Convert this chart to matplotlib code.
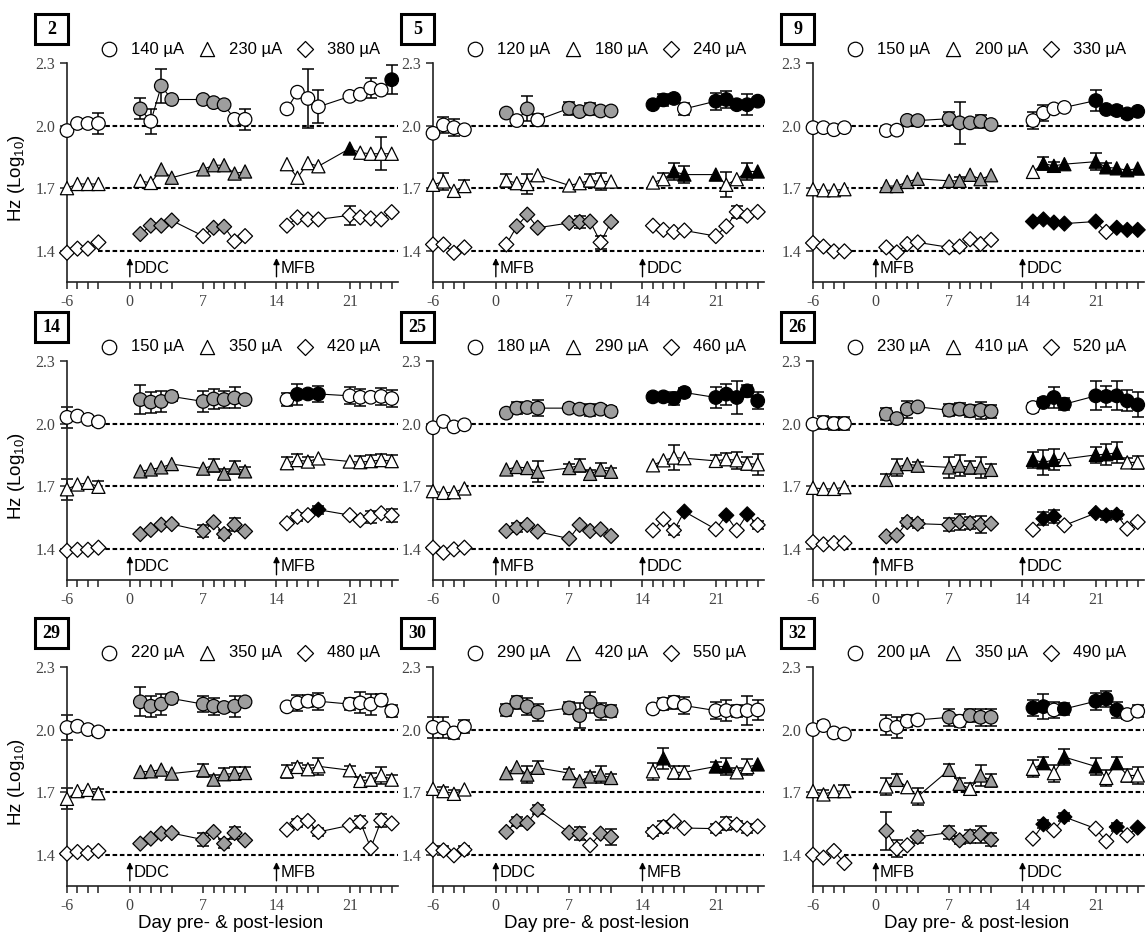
import matplotlib
matplotlib.use("Agg")
import matplotlib.pyplot as plt
from matplotlib.patches import Rectangle

plt.rcParams['font.family'] = ['Liberation Sans', 'DejaVu Sans']
plt.rcParams['mathtext.fontset'] = 'custom'
plt.rcParams['mathtext.rm'] = 'Liberation Sans'
plt.rcParams['axes.unicode_minus'] = False
SERIF = ['Liberation Serif', 'DejaVu Serif']

# Test days: 4 baseline days, then two 9-day post-lesion blocks
DAYS = [-6, -5, -4, -3, 1, 2, 3, 4, 7, 8, 9, 10, 11, 15, 16, 17, 18, 21, 22, 23, 24, 25]
SEGMENTS = [(0, 4), (4, 13), (13, 22)]
X_MAJOR = [-6, 0, 7, 14, 21]
X_MINOR = [-5, -4, -3, 1, 2, 3, 4, 8, 9, 10, 11, 15, 16, 17, 18, 22, 23, 24, 25]
Y_TICKS = [1.4, 1.7, 2.0, 2.3]
BASELINES = [1.4, 1.7, 2.0]
SYMBOLS = ['o', '^', 'D']
FILL_COLORS = {'w': 'white', 'g': '#9e9e9e', 'k': 'black'}

# ---- animal 2 ----
A2_CURRENTS = ['140 µA', '230 µA', '380 µA']
A2_HZ = [
    [1.976, 2.01, 2.01, 2.01, 2.08, 2.02, 2.19, 2.125, 2.125, 2.11, 2.10, 2.03, 2.03,
     2.08, 2.16, 2.13, 2.09, 2.14, 2.15, 2.18, 2.17, 2.22],
    [1.70, 1.72, 1.72, 1.72, 1.735, 1.725, 1.79, 1.75, 1.79, 1.81, 1.81, 1.77, 1.78,
     1.815, 1.75, 1.82, 1.805, 1.89, 1.87, 1.865, 1.865, 1.865],
    [1.39, 1.41, 1.41, 1.44, 1.48, 1.52, 1.52, 1.545, 1.47, 1.51, 1.515, 1.445, 1.47,
     1.52, 1.56, 1.55, 1.55, 1.57, 1.56, 1.555, 1.55, 1.585],
]
A2_FILL = ['wwww gwgggggww wwwwwwwwk', 'wwww wwggggggg wwwwkwwww', 'wwww ggggwggww wwwwwwwww']
A2_SEM = [
    [0, 0, 0, 0.05, 0.05, 0.06, 0.08, 0, 0, 0, 0, 0, 0.05, 0, 0, 0.14, 0.08, 0, 0, 0.05, 0, 0.07],
    [0] * 20 + [0.08, 0],
    [0] * 17 + [0.045, 0, 0, 0, 0],
]

# ---- animal 5 ----
A5_CURRENTS = ['120 µA', '180 µA', '240 µA']
A5_HZ = [
    [1.963, 2.003, 1.99, 1.98, 2.06, 2.024, 2.08, 2.027, 2.083, 2.067, 2.08, 2.07, 2.07,
     2.10, 2.123, 2.13, 2.08, 2.117, 2.125, 2.10, 2.10, 2.117],
    [1.716, 1.732, 1.687, 1.71, 1.737, 1.724, 1.72, 1.762, 1.713, 1.724, 1.737, 1.732, 1.732,
     1.727, 1.743, 1.78, 1.765, 1.765, 1.716, 1.743, 1.78, 1.78],
    [1.43, 1.43, 1.39, 1.416, 1.43, 1.517, 1.573, 1.51, 1.533, 1.538, 1.54, 1.44, 1.538,
     1.52, 1.50, 1.49, 1.497, 1.47, 1.517, 1.586, 1.568, 1.586],
]
A5_FILL = ['wwww gwgwggggg kkkwkkkkk', 'wwww wwwwwwwww wwkkkwwkk', 'wwww wggggggwg wwwwwwwww']
A5_SEM = [
    [0, 0.04, 0.04, 0, 0, 0, 0.06, 0.03, 0.03, 0, 0.03, 0, 0, 0, 0.03, 0, 0.03, 0.04, 0.04, 0, 0.05, 0],
    [0, 0.04, 0, 0.03, 0.03, 0, 0.05, 0, 0, 0, 0.03, 0.04, 0, 0, 0.03, 0.04, 0.04, 0, 0.06, 0, 0.04, 0],
    [0, 0, 0, 0, 0, 0, 0, 0, 0, 0.03, 0, 0.03, 0, 0, 0, 0, 0, 0, 0, 0.03, 0, 0],
]

# ---- animal 9 ----
A9_CURRENTS = ['150 µA', '200 µA', '330 µA']
A9_HZ = [
    [1.99, 1.99, 1.98, 1.99, 1.976, 1.978, 2.025, 2.024, 2.033, 2.013, 2.013, 2.02, 2.005,
     2.024, 2.06, 2.08, 2.087, 2.12, 2.077, 2.072, 2.056, 2.068],
    [1.695, 1.69, 1.69, 1.695, 1.71, 1.71, 1.73, 1.745, 1.735, 1.735, 1.764, 1.743, 1.762,
     1.778, 1.818, 1.807, 1.815, 1.827, 1.80, 1.795, 1.786, 1.794],
    [1.437, 1.42, 1.397, 1.397, 1.416, 1.392, 1.432, 1.44, 1.416, 1.42, 1.455, 1.432, 1.452,
     1.54, 1.55, 1.535, 1.53, 1.54, 1.49, 1.51, 1.50, 1.50],
]
A9_FILL = ['wwww wwggggggg wwwwkkkkk', 'wwww ggggggggg wkkkkkkkk', 'wwww wwwwwwwww kkkkkwkkk']
A9_SEM = [
    [0, 0, 0, 0, 0, 0, 0, 0, 0.03, 0.1, 0, 0.03, 0, 0.04, 0.04, 0, 0, 0.05, 0, 0.02, 0.02, 0],
    [0, 0, 0, 0, 0, 0, 0, 0, 0, 0.02, 0, 0, 0, 0, 0.03, 0.02, 0, 0.04, 0.02, 0, 0, 0],
    [0] * 22,
]

# ---- animal 14 ----
A14_CURRENTS = ['150 µA', '350 µA', '420 µA']
A14_HZ = [
    [2.03, 2.036, 2.02, 2.008, 2.115, 2.103, 2.106, 2.13, 2.106, 2.118, 2.115, 2.123, 2.115,
     2.115, 2.14, 2.142, 2.142, 2.133, 2.126, 2.126, 2.13, 2.12],
    [1.685, 1.708, 1.716, 1.697, 1.771, 1.78, 1.79, 1.806, 1.784, 1.80, 1.76, 1.79, 1.771,
     1.81, 1.825, 1.818, 1.833, 1.818, 1.815, 1.82, 1.825, 1.82],
    [1.39, 1.395, 1.395, 1.405, 1.47, 1.49, 1.515, 1.518, 1.484, 1.527, 1.47, 1.515, 1.483,
     1.522, 1.553, 1.561, 1.587, 1.561, 1.537, 1.553, 1.57, 1.56],
]
A14_FILL = ['wwww ggggggggg wkkkwwwww', 'wwww ggggggggg wwwwwwwww', 'wwww ggggggggg wwwkwwwww']
A14_SEM = [
    [0.05, 0, 0, 0.02, 0.07, 0.05, 0.05, 0.02, 0.05, 0.05, 0.04, 0.05, 0, 0.03, 0.05, 0, 0.04, 0.04, 0.04, 0, 0.04, 0.04],
    [0.05, 0, 0, 0.03, 0, 0, 0, 0, 0, 0.03, 0.02, 0.03, 0.02, 0.03, 0.03, 0.02, 0, 0, 0.03, 0.03, 0.03, 0.03],
    [0, 0, 0, 0, 0, 0, 0, 0, 0.03, 0, 0.02, 0.03, 0, 0, 0.02, 0, 0.02, 0, 0, 0.03, 0, 0.03],
]

# ---- animal 25 ----
A25_CURRENTS = ['180 µA', '290 µA', '460 µA']
A25_HZ = [
    [1.98, 2.01, 1.984, 1.994, 2.05, 2.074, 2.077, 2.074, 2.074, 2.069, 2.064, 2.069, 2.058,
     2.128, 2.128, 2.12, 2.149, 2.125, 2.141, 2.125, 2.157, 2.109],
    [1.676, 1.668, 1.671, 1.689, 1.78, 1.792, 1.787, 1.769, 1.787, 1.80, 1.759, 1.78, 1.769,
     1.80, 1.824, 1.837, 1.834, 1.821, 1.829, 1.824, 1.808, 1.805],
    [1.405, 1.381, 1.397, 1.405, 1.485, 1.501, 1.514, 1.482, 1.448, 1.514, 1.485, 1.493, 1.461,
     1.488, 1.541, 1.488, 1.578, 1.493, 1.56, 1.488, 1.565, 1.514],
]
A25_FILL = ['wwww ggggggggg kkkkkkkkk', 'wwww ggggggggg wwwwwwwww', 'wwww ggggggggg wwwkwkwkw']
A25_SEM = [
    [0, 0, 0, 0, 0, 0.03, 0, 0.04, 0.02, 0.02, 0.03, 0.02, 0.02, 0.02, 0, 0.03, 0.02, 0.05, 0.05, 0.08, 0.03, 0.04],
    [0, 0, 0, 0, 0, 0, 0, 0.05, 0.02, 0.03, 0.02, 0.03, 0.02, 0, 0, 0.06, 0, 0.03, 0.03, 0.04, 0.03, 0.05],
    [0, 0, 0, 0, 0, 0.02, 0, 0, 0, 0, 0, 0, 0, 0, 0, 0.02, 0, 0, 0, 0, 0, 0.02],
]

# ---- animal 26 ----
A26_CURRENTS = ['230 µA', '410 µA', '520 µA']
A26_HZ = [
    [1.997, 2.005, 2.0, 2.0, 2.045, 2.024, 2.069, 2.08, 2.064, 2.069, 2.061, 2.064, 2.058,
     2.077, 2.101, 2.125, 2.093, 2.133, 2.13, 2.133, 2.109, 2.09],
    [1.692, 1.687, 1.687, 1.695, 1.73, 1.79, 1.806, 1.798, 1.79, 1.798, 1.79, 1.79, 1.778,
     1.826, 1.814, 1.826, 1.83, 1.85, 1.853, 1.86, 1.814, 1.814],
    [1.432, 1.421, 1.427, 1.427, 1.459, 1.464, 1.528, 1.52, 1.515, 1.528, 1.523, 1.515, 1.52,
     1.491, 1.544, 1.555, 1.512, 1.571, 1.56, 1.563, 1.496, 1.528],
]
A26_FILL = ['wwww ggggggggg wkkkkkkkk', 'wwww ggggggggg kkkwkkkww', 'wwww ggggggggg wkkwkkkww']
A26_SEM = [
    [0, 0.03, 0.03, 0.03, 0.03, 0, 0.04, 0, 0.03, 0.03, 0.03, 0.04, 0.03, 0.02, 0.02, 0.05, 0.03, 0.07, 0.05, 0.07, 0.05, 0.06],
    [0, 0, 0, 0, 0.03, 0.04, 0, 0.02, 0.05, 0.05, 0.03, 0.05, 0.03, 0.04, 0.06, 0.05, 0, 0.04, 0.05, 0.05, 0.02, 0.03],
    [0, 0, 0, 0, 0, 0, 0.02, 0.02, 0.03, 0.04, 0.03, 0.04, 0, 0, 0.03, 0.03, 0, 0, 0.02, 0.02, 0, 0],
]

# ---- animal 29 ----
A29_CURRENTS = ['220 µA', '350 µA', '480 µA']
A29_HZ = [
    [2.01, 2.016, 2.0, 1.989, 2.133, 2.112, 2.122, 2.149, 2.122, 2.112, 2.106, 2.112, 2.133,
     2.109, 2.128, 2.136, 2.136, 2.122, 2.128, 2.122, 2.141, 2.09],
    [1.668, 1.705, 1.711, 1.695, 1.797, 1.80, 1.808, 1.789, 1.805, 1.76, 1.786, 1.789, 1.792,
     1.80, 1.821, 1.81, 1.824, 1.805, 1.754, 1.76, 1.781, 1.76],
    [1.405, 1.413, 1.408, 1.418, 1.453, 1.477, 1.501, 1.504, 1.472, 1.509, 1.453, 1.504, 1.469,
     1.52, 1.552, 1.562, 1.509, 1.541, 1.557, 1.432, 1.565, 1.55],
]
A29_FILL = ['wwww ggggggggg wwwwwwwww', 'wwww ggggggggg wwwwwwwww', 'wwww ggggggggg wwwwwwwww']
A29_SEM = [
    [0.06, 0.02, 0, 0.02, 0.07, 0.05, 0.05, 0.02, 0.04, 0.04, 0.02, 0.05, 0, 0.02, 0.04, 0.03, 0.04, 0.03, 0.05, 0.05, 0.03, 0.03],
    [0.05, 0, 0, 0.02, 0, 0, 0, 0, 0.03, 0.02, 0.03, 0.03, 0.03, 0.03, 0.02, 0.02, 0.04, 0.02, 0.02, 0.03, 0.04, 0.02],
    [0, 0, 0, 0, 0, 0, 0, 0, 0.03, 0, 0.02, 0.03, 0, 0, 0.02, 0, 0.02, 0, 0.03, 0, 0.03, 0],
]

# ---- animal 30 ----
A30_CURRENTS = ['290 µA', '420 µA', '550 µA']
A30_HZ = [
    [2.011, 2.008, 1.984, 2.014, 2.094, 2.131, 2.11, 2.083, 2.104, 2.067, 2.131, 2.088, 2.088,
     2.099, 2.123, 2.131, 2.115, 2.091, 2.091, 2.088, 2.091, 2.094],
    [1.716, 1.705, 1.692, 1.713, 1.791, 1.82, 1.784, 1.817, 1.791, 1.753, 1.775, 1.784, 1.768,
     1.80, 1.862, 1.795, 1.795, 1.823, 1.823, 1.795, 1.82, 1.833],
    [1.424, 1.421, 1.397, 1.424, 1.509, 1.56, 1.552, 1.616, 1.506, 1.501, 1.445, 1.501, 1.485,
     1.509, 1.533, 1.56, 1.528, 1.525, 1.549, 1.544, 1.525, 1.536],
]
A30_FILL = ['wwww ggggggggg wwwwwwwww', 'wwww ggggggggg wkwwkkwwk', 'wwww ggggggwgg wwwwwwwww']
A30_SEM = [
    [0.05, 0.05, 0.03, 0.03, 0.03, 0.03, 0.04, 0.04, 0.03, 0.06, 0.05, 0.04, 0.03, 0.02, 0.03, 0.03, 0.04, 0.04, 0.05, 0.03, 0.07, 0.05],
    [0, 0.02, 0.02, 0, 0, 0, 0.04, 0.03, 0.02, 0, 0.02, 0.04, 0.02, 0.04, 0.05, 0.03, 0.03, 0.02, 0.04, 0.02, 0.04, 0],
    [0, 0.02, 0, 0.02, 0, 0.02, 0, 0.02, 0, 0.03, 0, 0, 0.04, 0.02, 0.03, 0, 0, 0.02, 0.03, 0.02, 0.02, 0],
]

# ---- animal 32 ----
A32_CURRENTS = ['200 µA', '350 µA', '490 µA']
A32_HZ = [
    [2.0, 2.019, 1.984, 1.979, 2.022, 2.011, 2.04, 2.046, 2.059, 2.04, 2.067, 2.059, 2.059,
     2.104, 2.11, 2.094, 2.099, 2.136, 2.147, 2.094, 2.072, 2.088],
    [1.705, 1.689, 1.705, 1.705, 1.727, 1.759, 1.724, 1.679, 1.807, 1.74, 1.716, 1.78, 1.756,
     1.812, 1.839, 1.791, 1.868, 1.823, 1.768, 1.839, 1.78, 1.78],
    [1.40, 1.386, 1.418, 1.36, 1.514, 1.429, 1.445, 1.485, 1.506, 1.469, 1.488, 1.498, 1.472,
     1.477, 1.546, 1.517, 1.581, 1.525, 1.464, 1.533, 1.493, 1.53],
]
A32_FILL = ['wwww wwwwgwggg kkwkkkkww', 'wwww wgwwggwgg wkwkkwkww', 'wwww gwwgggggg wkwkwwkwk']
A32_SEM = [
    [0, 0.02, 0, 0.02, 0.05, 0.05, 0.03, 0, 0.04, 0.03, 0.03, 0.04, 0.04, 0.04, 0.06, 0.04, 0.03, 0.04, 0.04, 0.04, 0.02, 0.03],
    [0, 0.02, 0, 0.03, 0.04, 0.03, 0, 0.04, 0.03, 0.03, 0.03, 0.05, 0.03, 0.04, 0.03, 0.04, 0.04, 0.04, 0.04, 0.03, 0.03, 0.04],
    [0, 0, 0, 0, 0.09, 0.04, 0, 0.03, 0.03, 0.02, 0.03, 0.04, 0.03, 0, 0.02, 0, 0.02, 0, 0, 0.02, 0, 0],
]

# animal id, currents, first lesion, values, fills, SEM
PANELS = [
    (2, A2_CURRENTS, 'DDC', A2_HZ, A2_FILL, A2_SEM),
    (5, A5_CURRENTS, 'MFB', A5_HZ, A5_FILL, A5_SEM),
    (9, A9_CURRENTS, 'MFB', A9_HZ, A9_FILL, A9_SEM),
    (14, A14_CURRENTS, 'DDC', A14_HZ, A14_FILL, A14_SEM),
    (25, A25_CURRENTS, 'MFB', A25_HZ, A25_FILL, A25_SEM),
    (26, A26_CURRENTS, 'MFB', A26_HZ, A26_FILL, A26_SEM),
    (29, A29_CURRENTS, 'DDC', A29_HZ, A29_FILL, A29_SEM),
    (30, A30_CURRENTS, 'DDC', A30_HZ, A30_FILL, A30_SEM),
    (32, A32_CURRENTS, 'MFB', A32_HZ, A32_FILL, A32_SEM),
]

# layout (pixels)
FIG_W, FIG_H = 1146, 940
COL_LEFT = [67, 433, 813]
ROW_TOP = [63, 361, 667]
AX_W, AX_H = 331, 219
XLIM = (-6, 25.6)
YLIM = (1.25, 2.3)
MARKER_SIZE = {'o': 95, '^': 90, 'D': 58}
LEGEND_DX = [(42, 'o'), (140, '^'), (238, 'D')]

fig = plt.figure(figsize=(FIG_W / 100, FIG_H / 100), dpi=100)

for idx, (animal, currents, first_lesion, hz, fills, sems) in enumerate(PANELS):
    r, c = divmod(idx, 3)
    left, top = COL_LEFT[c], ROW_TOP[r]
    ax = fig.add_axes([left / FIG_W, 1 - (top + AX_H) / FIG_H, AX_W / FIG_W, AX_H / FIG_H])
    ax.set_xlim(*XLIM)
    ax.set_ylim(*YLIM)
    for side in ('top', 'right'):
        ax.spines[side].set_visible(False)
    for side in ('left', 'bottom'):
        ax.spines[side].set_linewidth(1.2)
        ax.spines[side].set_color('#222222')
    ax.set_xticks(X_MAJOR)
    ax.set_xticks(X_MINOR, minor=True)
    ax.set_yticks(Y_TICKS)
    ax.set_yticklabels([f'{v:.1f}' for v in Y_TICKS])
    ax.tick_params(which='both', direction='out', color='#222222', width=1.1)
    ax.tick_params(which='major', length=5, labelsize=11.5, labelcolor='#444444')
    ax.tick_params(which='minor', length=5)
    for lab in ax.get_xticklabels() + ax.get_yticklabels():
        lab.set_family(SERIF)

    # reference baselines
    for lvl in BASELINES:
        ax.plot([-3, XLIM[1]], [lvl, lvl], color='black', lw=1.5,
                ls=(0, (2.2, 1.3)), zorder=1)

    for s, sym in enumerate(SYMBOLS):
        vals = hz[s]
        codes = fills[s].replace(' ', '')
        for a, b in SEGMENTS:
            ax.plot(DAYS[a:b], vals[a:b], color='black', lw=0.8, zorder=2)
        ex = [d for d, e in zip(DAYS, sems[s]) if e > 0]
        ey = [v for v, e in zip(vals, sems[s]) if e > 0]
        ee = [e for e in sems[s] if e > 0]
        if ee:
            ax.errorbar(ex, ey, yerr=ee, fmt='none', ecolor='black', elinewidth=1.1,
                        capsize=4.5, capthick=1.1, zorder=2.5, clip_on=False)
        ax.scatter(DAYS, vals, marker=sym, s=MARKER_SIZE[sym],
                   facecolors=[FILL_COLORS[ch] for ch in codes],
                   edgecolors='black', linewidths=0.9, zorder=3, clip_on=False)

    # lesion arrows
    second = 'MFB' if first_lesion == 'DDC' else 'DDC'
    for day, name in ((0, first_lesion), (14, second)):
        ax.annotate('', xy=(day, 1.365), xytext=(day, 1.275),
                    arrowprops=dict(arrowstyle='-|>', color='black', lw=1.0,
                                    mutation_scale=9, shrinkA=0, shrinkB=0))
        ax.text(day + 0.35, 1.315, name, fontsize=12, va='center', ha='left')

    # legend above the plot
    ly = 1 + 14 / AX_H
    for k, (dx, sym) in enumerate(LEGEND_DX):
        ax.scatter([dx / AX_W], [ly], marker=sym, s=MARKER_SIZE[sym] * 1.15,
                   facecolors='white', edgecolors='black', linewidths=0.9,
                   transform=ax.transAxes, clip_on=False)
        ax.text((dx + 22) / AX_W, ly, currents[k], fontsize=12,
                va='center', ha='left', transform=ax.transAxes)

    # animal number box
    bw, bh = 33, 30
    cy = top - 34
    fig.add_artist(Rectangle(((left + 1 - bw) / FIG_W, 1 - (cy + bh / 2) / FIG_H),
                             bw / FIG_W, bh / FIG_H, transform=fig.transFigure,
                             fill=False, lw=2.2, edgecolor='black'))
    fig.text((left + 1 - bw / 2) / FIG_W, 1 - cy / FIG_H, str(animal), family=SERIF,
             fontweight='bold', fontsize=13, ha='center', va='center')

    if c == 0:
        fig.text(17 / FIG_W, 1 - (top + AX_H / 2 + 5) / FIG_H, r'Hz (Log$_{\mathregular{10}}$)',
                 rotation=90, fontsize=13.5, ha='center', va='center')
    if r == 2:
        fig.text((left + AX_W / 2 - 2) / FIG_W, 1 - 924 / FIG_H, 'Day pre- & post-lesion',
                 fontsize=13.5, ha='center', va='center')

fig.savefig('out.png', dpi=100, facecolor='white')
